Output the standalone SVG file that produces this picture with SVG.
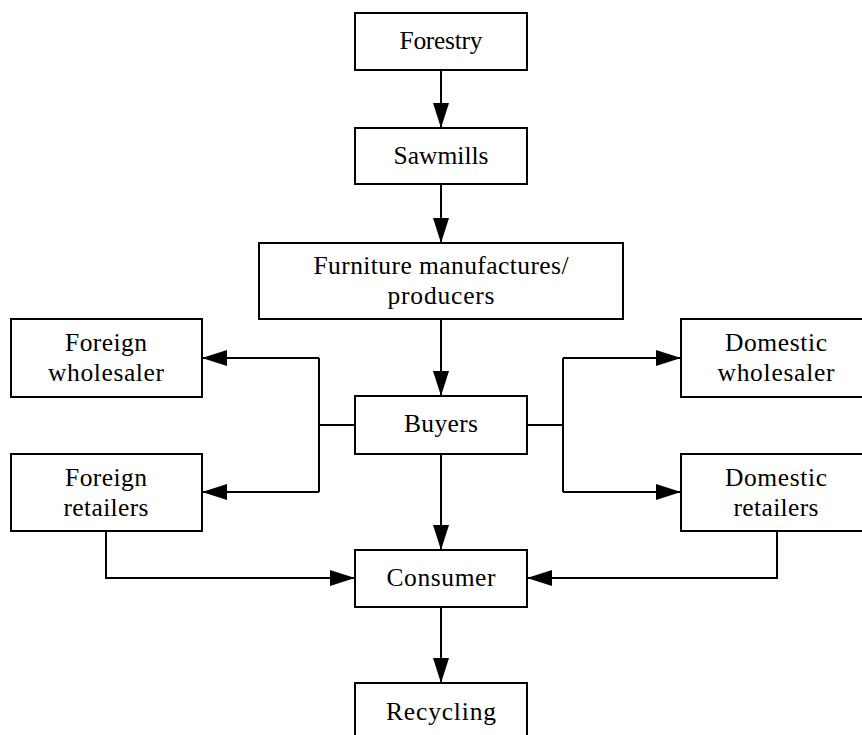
<svg xmlns="http://www.w3.org/2000/svg" width="862" height="735" viewBox="0 0 862 735">
<defs>
<style>
.box{fill:#fff;stroke:#000;stroke-width:2}
.lbl{font-family:"Liberation Serif","Times New Roman","DejaVu Serif",serif;font-size:25.5px;fill:#000;text-anchor:middle}
.con{fill:none;stroke:#000;stroke-width:2}
</style>
<marker id="ah" markerUnits="userSpaceOnUse" markerWidth="26" markerHeight="18" refX="25" refY="8" orient="auto" viewBox="0 0 26 18">
<path d="M0,0 L25,8 L0,16 Z" fill="#000"/>
</marker>
</defs>
<rect width="862" height="735" fill="#fff"/>
<g id="connectors">
<path class="con" d="M441,70 V128" marker-end="url(#ah)"/>
<path class="con" d="M441,184 V243" marker-end="url(#ah)"/>
<path class="con" d="M441,319 V396" marker-end="url(#ah)"/>
<path class="con" d="M355,425 H319"/>
<path class="con" d="M319,358 V492"/>
<path class="con" d="M319,358 H202" marker-end="url(#ah)"/>
<path class="con" d="M319,492 H202" marker-end="url(#ah)"/>
<path class="con" d="M527,425 H563"/>
<path class="con" d="M563,358 V492"/>
<path class="con" d="M563,358 H681" marker-end="url(#ah)"/>
<path class="con" d="M563,492 H681" marker-end="url(#ah)"/>
<path class="con" d="M441,454 V550" marker-end="url(#ah)"/>
<path class="con" d="M106,531 V578 H355" marker-end="url(#ah)"/>
<path class="con" d="M777,531 V578 H527" marker-end="url(#ah)"/>
<path class="con" d="M441,607 V683" marker-end="url(#ah)"/>
</g>
<g id="forestry"><rect class="box" x="355" y="13" width="172" height="57"/><text class="lbl" x="441" y="49" textLength="83">Forestry</text></g>
<g id="sawmills"><rect class="box" x="355" y="128" width="172" height="56"/><text class="lbl" x="441" y="164" textLength="95">Sawmills</text></g>
<g id="furniture"><rect class="box" x="259" y="243" width="364" height="76"/><text class="lbl" x="441" y="274" textLength="255">Furniture manufactures/</text><text class="lbl" x="441" y="304" textLength="107">producers</text></g>
<g id="foreign-wholesaler"><rect class="box" x="11" y="319" width="191" height="78"/><text class="lbl" x="106" y="351" textLength="82">Foreign</text><text class="lbl" x="106" y="381" textLength="116">wholesaler</text></g>
<g id="buyers"><rect class="box" x="355" y="396" width="172" height="58"/><text class="lbl" x="441" y="432" textLength="74">Buyers</text></g>
<g id="domestic-wholesaler"><rect class="box" x="681" y="319" width="191" height="78"/><text class="lbl" x="776" y="351" textLength="102">Domestic</text><text class="lbl" x="776" y="381" textLength="117">wholesaler</text></g>
<g id="foreign-retailers"><rect class="box" x="11" y="454" width="191" height="77"/><text class="lbl" x="106" y="486" textLength="82">Foreign</text><text class="lbl" x="106" y="516" textLength="85">retailers</text></g>
<g id="domestic-retailers"><rect class="box" x="681" y="454" width="191" height="77"/><text class="lbl" x="776" y="486" textLength="102">Domestic</text><text class="lbl" x="776" y="516" textLength="85">retailers</text></g>
<g id="consumer"><rect class="box" x="355" y="550" width="172" height="57"/><text class="lbl" x="441" y="586" textLength="109">Consumer</text></g>
<g id="recycling"><rect class="box" x="355" y="683" width="172" height="60"/><text class="lbl" x="441" y="720" textLength="110">Recycling</text></g>
</svg>
